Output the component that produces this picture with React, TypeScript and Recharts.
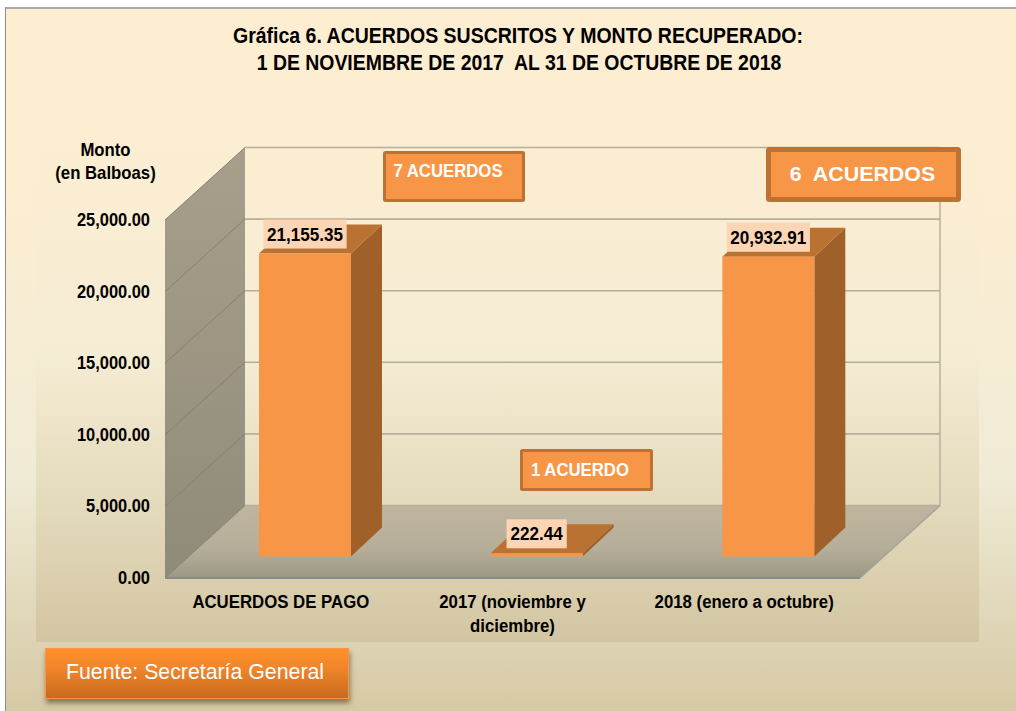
import React from "react";
import { BarChart, Bar, XAxis, YAxis, LabelList } from "recharts";

const categories = ["ACUERDOS DE PAGO", "2017 (noviembre y|diciembre)", "2018 (enero a octubre)"];
const montos = [21155.35, 222.44, 20932.91];
const yTicks = [0, 5000, 10000, 15000, 20000, 25000];

const data = categories.map((name, i) => ({ name, monto: montos[i] }));

const W = 1016;
const H = 711;
const PLOT = { left: 165, top: 220, right: 860, bottom: 578 };
const DEPTH = { x: 80, y: 72.5 };
const BAR_SHIFT = { x: 24, y: 21.5 };
const BAR_DEPTH = { x: 31, y: 29 };
const FONT = "'Liberation Sans', Arial, sans-serif";

const fmt = (v: number) =>
  v.toLocaleString("en-US", { minimumFractionDigits: 2, maximumFractionDigits: 2 });

const yFor = (v: number) =>
  PLOT.bottom - (v / 25000) * (PLOT.bottom - PLOT.top);

// squeezed bold text, the original has narrowed Arial
function Txt({ x, y, size = 18, sx = 0.9, anchor = "middle", fill = "#000", weight = "bold", children }: any) {
  return (
    <text
      transform={`translate(${x} ${y}) scale(${sx} 1)`}
      textAnchor={anchor}
      fontFamily={FONT}
      fontSize={size}
      fontWeight={weight}
      fill={fill}
      style={{ whiteSpace: "pre" }}
    >
      {children}
    </text>
  );
}

function Walls() {
  const { left, right, bottom, top } = PLOT;
  const backL = left + DEPTH.x;
  const backR = right + DEPTH.x;
  const backB = bottom - DEPTH.y;
  return (
    <g>
      <defs>
        <linearGradient id="leftWall" x1="0" y1="0" x2="0" y2="1">
          <stop offset="0" stopColor="#a89f8b" />
          <stop offset="1" stopColor="#8f8b7a" />
        </linearGradient>
        <linearGradient id="floor" x1="0" y1="0" x2="0" y2="1">
          <stop offset="0" stopColor="#c0b59f" />
          <stop offset="0.6" stopColor="#b5ae99" />
          <stop offset="1" stopColor="#9c9886" />
        </linearGradient>
      </defs>
      <polygon
        points={`${left},${top} ${backL},${top - DEPTH.y} ${backL},${backB} ${left},${bottom}`}
        fill="url(#leftWall)"
      />
      <polygon
        points={`${left},${bottom} ${right},${bottom} ${backR},${backB} ${backL},${backB}`}
        fill="url(#floor)"
      />
      {yTicks.map((v) => {
        const y = yFor(v);
        return (
          <g key={v}>
            <line x1={left} y1={y} x2={backL} y2={y - DEPTH.y} stroke="#85806f" strokeWidth={1} />
            <line x1={backL} y1={y - DEPTH.y} x2={backR} y2={y - DEPTH.y} stroke="#b5ae9b" strokeWidth={1.6} />
          </g>
        );
      })}
      <line x1={backR} y1={top - DEPTH.y} x2={backR} y2={backB} stroke="#b5ae9b" strokeWidth={1.4} />
      <line x1={left} y1={bottom} x2={right} y2={bottom} stroke="#8a8a86" strokeWidth={2} />
      <line x1={right} y1={bottom} x2={backR} y2={backB} stroke="#a3a39c" strokeWidth={1.4} />
    </g>
  );
}

function Bar3D({ x, y, width, height }: any) {
  const fx = x + BAR_SHIFT.x;
  const fy = y - BAR_SHIFT.y;
  const dx = BAR_DEPTH.x;
  const dy = BAR_DEPTH.y;
  return (
    <g>
      <polygon
        points={`${fx + width},${fy} ${fx + width + dx},${fy - dy} ${fx + width + dx},${fy + height - dy} ${fx + width},${fy + height}`}
        fill="#9f602a"
      />
      <polygon
        points={`${fx},${fy} ${fx + dx},${fy - dy} ${fx + width + dx},${fy - dy} ${fx + width},${fy}`}
        fill="#b97232"
      />
      <rect x={fx} y={fy} width={width} height={height} fill="#f79646" />
    </g>
  );
}

function ValueTag({ x, y, width, value }: any) {
  const text = fmt(value);
  const boxW = 14 + 7.7 * text.length;
  const cx = x + width / 2 + BAR_SHIFT.x;
  const cy = y - BAR_SHIFT.y - 19.5;
  return (
    <g>
      <rect x={cx - boxW / 2} y={cy - 14.5} width={boxW} height={29} fill="#fcd5b5" />
      <Txt x={cx} y={cy + 6.5} size={19} sx={0.9}>{text}</Txt>
    </g>
  );
}

function YTick({ x, y, payload }: any) {
  return <Txt x={x - 7} y={y + 6} anchor="end" size={19} sx={0.865}>{fmt(payload.value)}</Txt>;
}

function XTick({ x, y, payload }: any) {
  const lines = String(payload.value).split("|");
  return (
    <g>
      {lines.map((line, i) => (
        <Txt key={i} x={x} y={y + 24 + i * 24} size={19} sx={0.884}>{line}</Txt>
      ))}
    </g>
  );
}

function Callout({ x, y, w, h, border = 3, size = 18, sx = 0.93, dx = 0, dy = 0, children }: any) {
  return (
    <g>
      <rect
        x={x + border / 2}
        y={y + border / 2}
        width={w - border}
        height={h - border}
        fill="#f79646"
        stroke="#bd7132"
        strokeWidth={border}
        rx={1}
      />
      <Txt x={x + w / 2 + dx} y={y + h / 2 + 6 + dy} size={size} sx={sx} fill="#fff">{children}</Txt>
    </g>
  );
}

export default function App() {
  return (
    <div style={{ position: "absolute", left: 0, top: 0, width: W, height: H, overflow: "hidden", background: "#fff" }}>
      <div
        style={{
          position: "absolute",
          left: 5,
          top: 7,
          right: 0,
          bottom: 0,
          borderLeft: "1px solid #8c8c8c",
          borderTop: "2px solid #a8a8a8",
          background: "linear-gradient(#fdeed2 0%, #fdeed2 25%, #f0ebd5 67%, #d6c9a5 100%)",
        }}
      />
      <div
        style={{
          position: "absolute",
          left: 36,
          top: 120,
          width: 943,
          height: 522,
          background: "linear-gradient(#fdeed2 0%, #f5ecd4 45%, #e3d9bb 75%, #d2c5a2 100%)",
        }}
      />
      <div style={{ position: "absolute", left: 0, top: 0 }}>
        <BarChart
          width={W}
          height={H}
          data={data}
          margin={{ top: PLOT.top, right: W - PLOT.right, bottom: H - PLOT.bottom - 60, left: 0 }}
        >
          <Walls />
          <XAxis
            dataKey="name"
            height={60}
            axisLine={false}
            tickLine={false}
            interval={0}
            tick={<XTick />}
            tickMargin={0}
          />
          <YAxis
            width={PLOT.left}
            domain={[0, 25000]}
            ticks={yTicks}
            axisLine={false}
            tickLine={false}
            tick={<YTick />}
          />
          <Bar dataKey="monto" barSize={92} shape={<Bar3D />} isAnimationActive={false}>
            <LabelList dataKey="monto" content={<ValueTag />} />
          </Bar>
          <Txt x={518} y={43} size={22} sx={0.887}>Gráfica 6. ACUERDOS SUSCRITOS Y MONTO RECUPERADO:</Txt>
          <Txt x={519} y={70} size={22} sx={0.883}>1 DE NOVIEMBRE DE 2017  AL 31 DE OCTUBRE DE 2018</Txt>
          <Txt x={105.5} y={156} size={18} sx={0.93}>Monto</Txt>
          <Txt x={105.5} y={179} size={18} sx={0.93}>(en Balboas)</Txt>
          <Callout x={383} y={151} w={142} h={51} dx={-6} dy={-6}>7 ACUERDOS</Callout>
          <Callout x={520} y={449} w={133} h={42} dx={-6.5}>1 ACUERDO</Callout>
          <Callout x={766} y={147} w={195} h={55} border={5} size={20} sx={1.07} dx={-1}>6  ACUERDOS</Callout>
        </BarChart>
      </div>
      <div
        style={{
          position: "absolute",
          left: 45,
          top: 648,
          width: 304,
          height: 51,
          boxSizing: "border-box",
          border: "1px solid #f79646",
          background: "linear-gradient(#ff8f2b 0%, #f0852a 40%, #c96a1e 100%)",
          boxShadow: "1px 4px 5px rgba(70,60,40,0.6)",
          color: "#fff",
          fontFamily: FONT,
          fontSize: 21.3,
          lineHeight: "47px",
          paddingLeft: 20,
          whiteSpace: "nowrap",
        }}
      >
        Fuente: Secretaría General
      </div>
    </div>
  );
}
